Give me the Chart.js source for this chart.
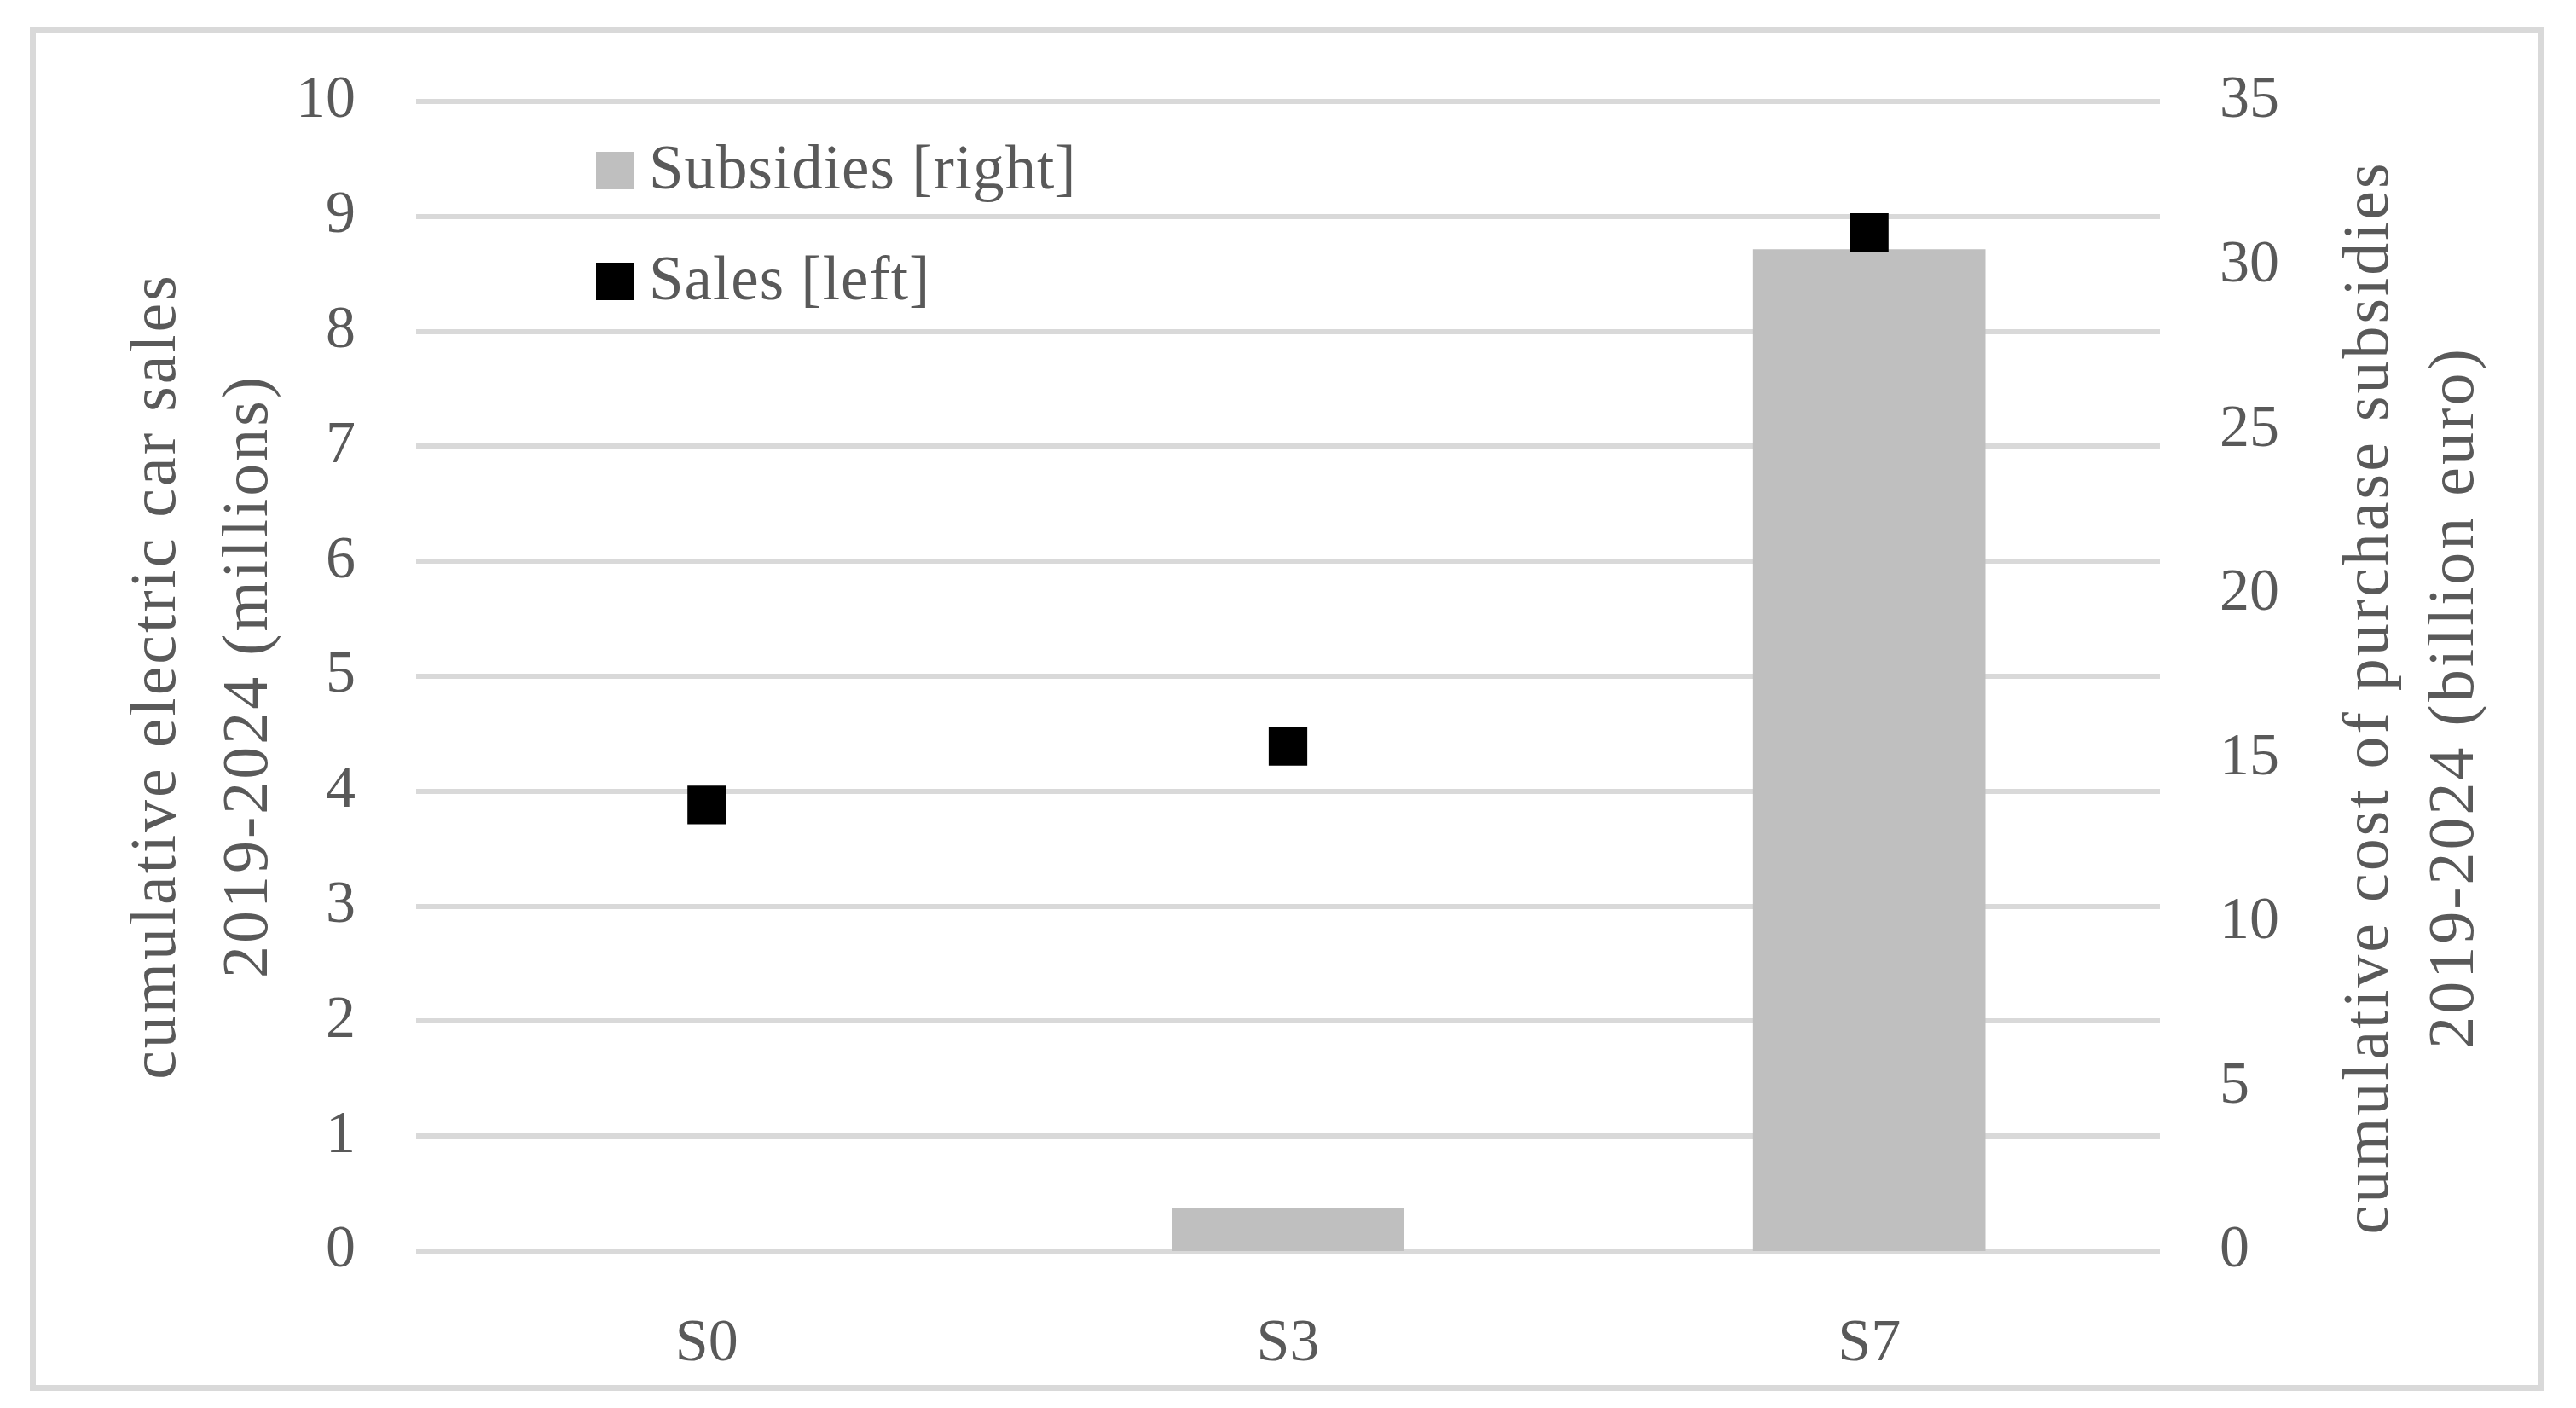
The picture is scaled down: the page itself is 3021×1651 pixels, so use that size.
<!DOCTYPE html>
<html>
<head>
<meta charset="utf-8">
<title>Cumulative electric car sales and subsidies</title>
<script src="https://cdn.jsdelivr.net/npm/chart.js"></script>
<style>
    html, body { margin: 0; padding: 0; background: #fff; }
    #wrap { position: relative; width: 3021px; height: 1651px; }
    #frame {
        position: absolute; left: 35px; top: 32px; width: 2948px; height: 1599px;
        box-sizing: border-box; border: 7px solid #d9d9d9; pointer-events: none;
    }
    canvas { position: absolute; left: 0; top: 0; }
</style>
</head>
<body>
<div id="wrap">
    <canvas id="scenarioChart" width="3021" height="1651"></canvas>
    <div id="frame"></div>
</div>
<script>
const scenarios = ['S0', 'S3', 'S7'];
const salesMillions = [3.88, 4.39, 8.86];      // left axis
const subsidiesBillion = [0, 1.32, 30.5];      // right axis
const leftTicks = [0, 10, 1];                  // min, max, step
const rightTicks = [0, 35, 5];
const leftTitle = ['cumulative electric car sales', '2019-2024 (millions)'];
const rightTitle = ['cumulative cost of purchase subsidies', '2019-2024 (billion euro)'];

const FONT = '"Liberation Serif", "DejaVu Serif", serif';
const TEXT = '#595959';

// axis titles (both read bottom-to-top) and the legend inside the plot
const annotations = {
    id: 'annotations',
    afterDraw(chart) {
        const ctx = chart.ctx;
        const area = chart.chartArea;
        const midY = (area.top + area.bottom) / 2;

        function drawTitle(lines, baselines, cy) {
            ctx.save();
            ctx.fillStyle = TEXT;
            ctx.font = '76px ' + FONT;
            if ('letterSpacing' in ctx) ctx.letterSpacing = '3px';
            ctx.textAlign = 'center';
            ctx.textBaseline = 'alphabetic';
            lines.forEach((line, i) => {
                ctx.save();
                ctx.translate(baselines[i], cy);
                ctx.rotate(-Math.PI / 2);
                ctx.fillText(line, 0, 0);
                ctx.restore();
            });
            ctx.restore();
        }
        drawTitle(leftTitle, [area.left - 283, area.left - 175], midY);
        drawTitle(rightTitle, [area.right + 267, area.right + 367], midY + 25);

        // legend: subsidies first, then sales
        const items = [chart.data.datasets[1], chart.data.datasets[0]];
        ctx.save();
        ctx.font = '73px ' + FONT;
        if ('letterSpacing' in ctx) ctx.letterSpacing = '1px';
        ctx.textBaseline = 'middle';
        ctx.textAlign = 'left';
        items.forEach((ds, i) => {
            const x = area.left + 211;
            const cy = area.top + 81 + i * 130;
            ctx.fillStyle = ds.backgroundColor;
            ctx.fillRect(x, cy - 22, 44, 44);
            ctx.fillStyle = TEXT;
            ctx.fillText(ds.label, x + 62, cy + 2);
        });
        ctx.restore();
    }
};

function initializeScenarioChart() {
    const ctx = document.getElementById('scenarioChart');
    if (!ctx) return;

    new Chart(ctx, {
        data: {
            labels: scenarios,
            datasets: [{
                type: 'line',
                label: 'Sales [left]',
                data: salesMillions,
                yAxisID: 'y',
                showLine: false,
                pointStyle: 'rect',
                pointRadius: 32,
                pointHoverRadius: 32,
                pointBorderWidth: 0,
                backgroundColor: '#000000',
                borderColor: '#000000',
                order: 0
            }, {
                type: 'bar',
                label: 'Subsidies [right]',
                data: subsidiesBillion,
                yAxisID: 'y1',
                backgroundColor: '#bfbfbf',
                borderWidth: 0,
                categoryPercentage: 1,
                barPercentage: 0.4,
                order: 1
            }]
        },
        options: {
            responsive: false,
            animation: false,
            devicePixelRatio: 1,
            layout: { padding: { top: 119, left: 0, right: 0, bottom: 0 } },
            plugins: {
                legend: { display: false },
                tooltip: { enabled: false }
            },
            scales: {
                x: {
                    offset: true,
                    grid: { display: false },
                    border: { display: false },
                    ticks: {
                        padding: 60,
                        color: TEXT,
                        font: { family: FONT, size: 70 }
                    },
                    afterFit: scale => { scale.height = 184; }
                },
                y: {
                    position: 'left',
                    min: leftTicks[0],
                    max: leftTicks[1],
                    grid: { color: '#d9d9d9', lineWidth: 6, drawTicks: false },
                    border: { display: false },
                    ticks: {
                        stepSize: leftTicks[2],
                        padding: 71,
                        color: TEXT,
                        font: { family: FONT, size: 70 }
                    },
                    afterFit: scale => { scale.width = 488; }
                },
                y1: {
                    position: 'right',
                    min: rightTicks[0],
                    max: rightTicks[1],
                    grid: { display: false, drawTicks: false },
                    border: { display: false },
                    ticks: {
                        stepSize: rightTicks[2],
                        padding: 70,
                        color: TEXT,
                        font: { family: FONT, size: 70 }
                    },
                    afterFit: scale => { scale.width = 488; }
                }
            }
        },
        plugins: [annotations]
    });
}

document.addEventListener('DOMContentLoaded', initializeScenarioChart);
</script>
</body>
</html>
